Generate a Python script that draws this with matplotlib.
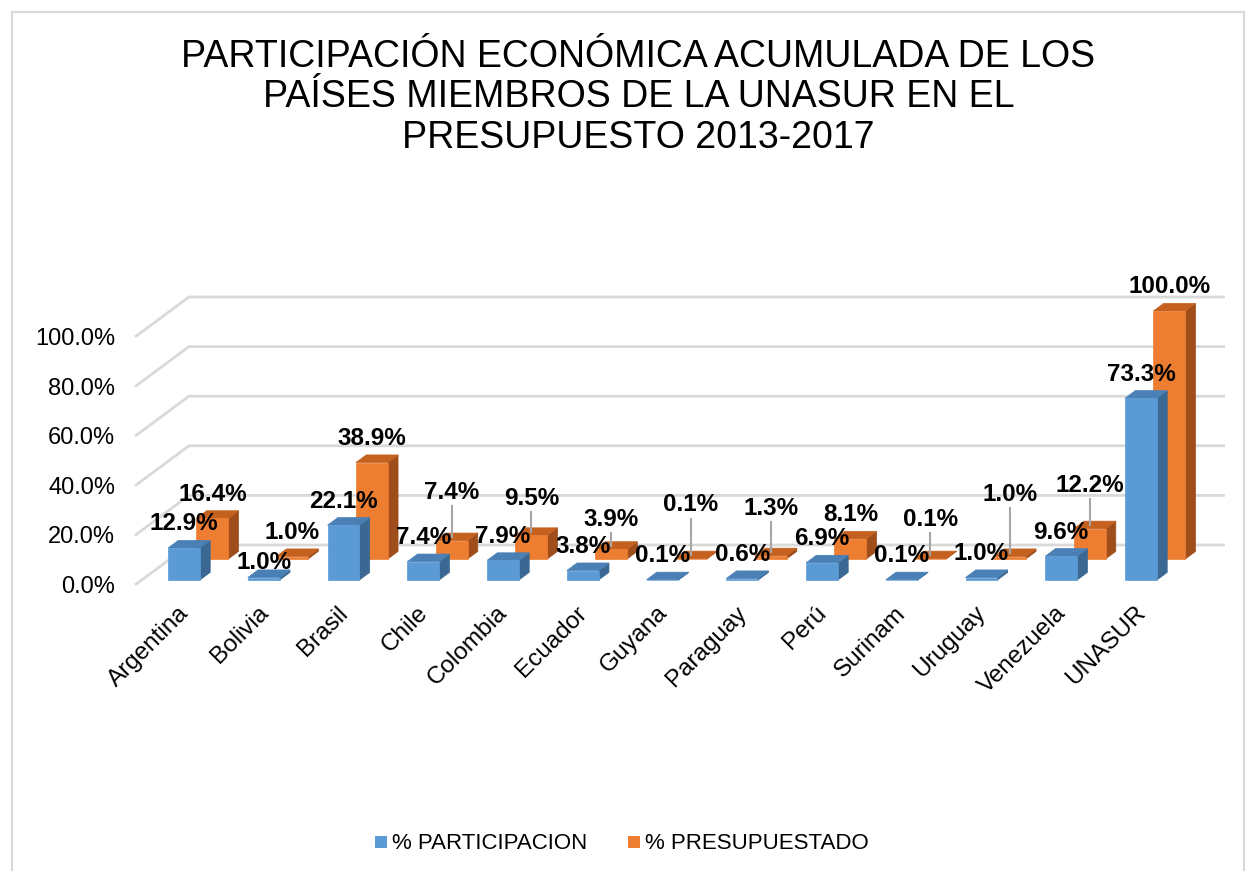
import matplotlib
matplotlib.use("Agg")
from matplotlib import pyplot as plt
from matplotlib.patches import Polygon, Rectangle

plt.rcParams["font.family"] = ["Liberation Sans", "DejaVu Sans"]

# data
countries = ["Argentina", "Bolivia", "Brasil", "Chile", "Colombia", "Ecuador", "Guyana",
             "Paraguay", "Perú", "Surinam", "Uruguay", "Venezuela", "UNASUR"]
participacion = [12.9, 1.0, 22.1, 7.4, 7.9, 3.8, 0.1, 0.6, 6.9, 0.1, 1.0, 9.6, 73.3]
presupuestado = [16.4, 1.0, 38.9, 7.4, 9.5, 3.9, 0.1, 1.3, 8.1, 0.1, 1.0, 12.2, 100.0]
y_ticks = [0, 20, 40, 60, 80, 100]
series_names = ["% PARTICIPACION", "% PRESUPUESTADO"]

# label shifts (in % units) that Excel applied to avoid overlaps
blue_label_lift = [0, -3.5, 0, 0, 0, 0, 0, 0, 0, 0, 0, 0, 0]
orange_label_lift = [0, 0, 0, 9.7, 5.2, 2.4, 12.0, 9.3, 0, 6.0, 15.3, 7.7, 0]

title = ("PARTICIPACIÓN ECONÓMICA ACUMULADA DE LOS\n"
         "PAÍSES MIEMBROS DE LA UNASUR EN EL\n"
         "PRESUPUESTO 2013-2017")

# layout (pixels of the 1252x871 figure)
W, H = 1252, 871
PX_CAT = 79.75        # px per category
PX_PCT = 2.48         # px per percent
X0_PX = 177.25        # category 0 at front plane
Y0_PX = 585           # 0 % at front plane (from top)
DEPTH_DX = 54 / PX_CAT
DEPTH_DV = 40 / PX_PCT
BAR_HALF = 0.20
BAR_DEPTH = 0.19
ROW_DEPTH = [0.125, 0.65]

colors = [("#5B9BD5", "#4A80B6", "#3B6892"), ("#ED7D31", "#C5611F", "#9F4E1B")]
grid_color = "#D9D9D9"


def proj(x, v, d):
    return x + d * DEPTH_DX, v + d * DEPTH_DV


def draw_bar(ax, x, v, d, cols, z):
    front, top, side = cols
    x1, x2 = x - BAR_HALF, x + BAR_HALF
    d2 = d + BAR_DEPTH
    f = [proj(x1, 0, d), proj(x2, 0, d), proj(x2, v, d), proj(x1, v, d)]
    t = [proj(x1, v, d), proj(x2, v, d), proj(x2, v, d2), proj(x1, v, d2)]
    s = [proj(x2, 0, d), proj(x2, 0, d2), proj(x2, v, d2), proj(x2, v, d)]
    for pts, c in ((s, side), (t, top), (f, front)):
        ax.add_patch(Polygon(pts, closed=True, facecolor=c, edgecolor=c, lw=0.5, zorder=z))


fig = plt.figure(figsize=(W / 100, H / 100), dpi=100)
ax = fig.add_axes([0, 0, 1, 1])
ax.set_xlim(-X0_PX / PX_CAT, (W - X0_PX) / PX_CAT)
ax.set_ylim(-(H - Y0_PX) / PX_PCT, Y0_PX / PX_PCT)
ax.axis("off")

# chart border
fig.patches.append(Rectangle((12 / W, -0.01), (W - 20) / W, 1 - 12 / H + 0.01,
                             transform=fig.transFigure, fill=False,
                             edgecolor=grid_color, lw=1.5))

# walls gridlines
x_left = -0.53
x_right = 12.46
for v in y_ticks:
    xa, ya = proj(x_left, v, 0)
    xb, yb = proj(x_left, v, 1)
    xc, yc = proj(x_right, v, 1)
    ax.plot([xa, xb, xc], [ya, yb, yc], color=grid_color, lw=2, zorder=1,
            solid_capstyle="butt")
    ax.text(-0.78, v - 0.8, f"{v:.1f}%", ha="right", va="center", fontsize=17)

# bars: back row (orange) first
for row, vals in ((1, presupuestado), (0, participacion)):
    for i, v in enumerate(vals):
        draw_bar(ax, i, v, ROW_DEPTH[row], colors[row], 3 - row)

# data labels
for i, v in enumerate(participacion):
    x, y = proj(i, v, ROW_DEPTH[0])
    ax.text(x, y + 9.7 + blue_label_lift[i], f"{v:.1f}%", ha="center", va="center",
            fontsize=17.5, fontweight="bold", zorder=10)
for i, v in enumerate(presupuestado):
    x, y = proj(i, v, ROW_DEPTH[1])
    lift = orange_label_lift[i]
    ax.text(x, y + 9.7 + lift, f"{v:.1f}%", ha="center", va="center", fontsize=17.5,
            fontweight="bold", zorder=10)
    if lift > 0:
        _, ytop = proj(i, v, ROW_DEPTH[1] + BAR_DEPTH / 2)
        ax.plot([x, x], [ytop, y + 9.7 + lift - 5.5], color="#A6A6A6", lw=1.5, zorder=9)

# category labels
for i, name in enumerate(countries):
    ax.text(i, -6.8, name, ha="right", va="top", rotation=45,
            rotation_mode="anchor", fontsize=17.5)

# title
fig.text(0.51, 1 - 39 / H, title, ha="center", va="top", fontsize=27,
         linespacing=1.16)

# legend
for k, (name, (c, _, _)) in enumerate(zip(series_names, colors)):
    lx = [375, 628][k]
    fig.patches.append(Rectangle((lx / W, 1 - 848 / H), 12 / W, 12 / H,
                                 transform=fig.transFigure, facecolor=c, edgecolor="none"))
    fig.text((lx + 17) / W, 1 - 843 / H, name, ha="left", va="center", fontsize=16)

fig.savefig("out.png", dpi=100)
